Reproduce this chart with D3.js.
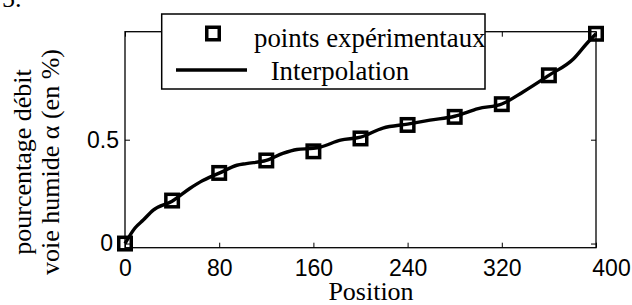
<!DOCTYPE html>
<html>
<head>
<meta charset="utf-8">
<script src="https://cdn.jsdelivr.net/npm/d3@7"></script>
<style>
  body { margin: 0; background: #fff; }
  svg { display: block; }
  .serif { font-family: "Liberation Serif", "Times New Roman", serif; }
  .tick text { font-family: "Liberation Sans", Arial, sans-serif; font-size: 23px; fill: #000; }
</style>
</head>
<body>
<svg id="chart" width="632" height="305"></svg>
<script>
// points expérimentaux
const positions = [0, 40, 80, 120, 160, 200, 240, 280, 320, 360, 400]
const pourcentages = [0, 0.207, 0.34, 0.40, 0.444, 0.506, 0.571, 0.61, 0.671, 0.81, 1.01]

// courbe d'interpolation
const interpX = [0, 8.5, 15.5, 24, 40, 55, 64, 80, 95, 103, 120, 134, 146, 160, 166, 183, 200, 219, 240, 259, 280, 300, 320, 338, 360, 381, 392, 400]
const interpY = [0, 0.075, 0.113, 0.161, 0.204, 0.265, 0.297, 0.339, 0.377, 0.385, 0.40, 0.434, 0.453, 0.459, 0.465, 0.498, 0.512, 0.556, 0.575, 0.594, 0.613, 0.65, 0.672, 0.73, 0.81, 0.89, 0.962, 1.01]

const xTicks = [0, 80, 160, 240, 320, 400]
const yTicks = [0, 0.5]
const yTickLabels = ['0', '0.5']

const legendLabels = ['points expérimentaux', 'Interpolation']

const svg = d3.select('#chart')
const gauche = 125, droite = 596, haut = 31.7, bas = 247.7

const x = d3.scaleLinear().domain([0, 400]).range([gauche, droite])
const y = d3.scaleLinear().domain([-0.02, 1.02]).range([bas, haut])

// reste du numéro de la figure précédente (coupé en haut comme sur l'original)
svg.append('text').attr('class', 'serif').attr('x', 2).attr('y', 7)
  .attr('font-size', 26).text('5.')

// axes (graduations vers l'intérieur)
const axeX = svg.append('g').attr('transform', `translate(0,${bas})`)
  .call(d3.axisBottom(x).tickValues(xTicks).tickSizeInner(-5).tickSizeOuter(0).tickPadding(12))
svg.append('g').attr('transform', `translate(0,${haut})`)
  .call(d3.axisTop(x).tickValues(xTicks).tickSizeInner(-5).tickSizeOuter(0).tickFormat(''))
const axeY = svg.append('g').attr('transform', `translate(${gauche},0)`)
  .call(d3.axisLeft(y).tickValues(yTicks).tickSizeInner(-5).tickSizeOuter(0).tickPadding(6)
    .tickFormat((d, i) => yTickLabels[i]))
svg.append('g').attr('transform', `translate(${droite},0)`)
  .call(d3.axisRight(y).tickValues(yTicks).tickSizeInner(-5).tickSizeOuter(0).tickFormat(''))

// petits décalages des étiquettes comme sur la figure
axeX.selectAll('.tick text').filter(d => d === 400).attr('dx', 15)
axeY.selectAll('.tick text').filter(d => d === 0).attr('dx', -6)

svg.selectAll('.domain').remove()
svg.selectAll('.tick line').attr('stroke', '#000').attr('stroke-width', 1)

svg.append('rect')
  .attr('x', gauche).attr('y', haut)
  .attr('width', droite - gauche).attr('height', bas - haut)
  .attr('fill', 'none').attr('stroke', '#000').attr('stroke-width', 1.3)

// courbe
const ligne = d3.line()
  .x((d, i) => x(interpX[i]))
  .y(d => y(d))
  .curve(d3.curveMonotoneX)

svg.append('path')
  .datum(interpY)
  .attr('d', ligne)
  .attr('fill', 'none')
  .attr('stroke', '#000')
  .attr('stroke-width', 3.4)
  .attr('stroke-linejoin', 'round')

// marqueurs carrés
const cote = 12.5
svg.selectAll('rect.pt')
  .data(pourcentages)
  .enter()
  .append('rect')
  .attr('class', 'pt')
  .attr('x', (d, i) => x(positions[i]) - cote / 2)
  .attr('y', d => y(d) - cote / 2)
  .attr('width', cote).attr('height', cote)
  .attr('fill', 'none').attr('stroke', '#000').attr('stroke-width', 3.5)

// titres des axes
svg.append('text').attr('class', 'serif')
  .attr('x', 371).attr('y', 300)
  .attr('text-anchor', 'middle').attr('font-size', 26)
  .text('Position')

const yLab = ['pourcentage débit', 'voie humide α (en %)']
yLab.forEach((t, i) => {
  svg.append('text').attr('class', 'serif')
    .attr('transform', `translate(${31 + i * 28},162) rotate(-90)`)
    .attr('text-anchor', 'middle').attr('font-size', 26)
    .text(t)
})

// légende
const leg = svg.append('g')
leg.append('rect')
  .attr('x', 161.7).attr('y', 14).attr('width', 323.3).attr('height', 75)
  .attr('fill', '#fff').attr('stroke', '#000').attr('stroke-width', 1.5)
leg.append('rect')
  .attr('x', 213 - cote / 2).attr('y', 33.5 - cote / 2)
  .attr('width', cote).attr('height', cote)
  .attr('fill', 'none').attr('stroke', '#000').attr('stroke-width', 3.5)
leg.append('line')
  .attr('x1', 176).attr('x2', 247).attr('y1', 70).attr('y2', 70)
  .attr('stroke', '#000').attr('stroke-width', 3.4)
leg.append('text').attr('class', 'serif')
  .attr('x', 254).attr('y', 46.5).attr('font-size', 26.8)
  .text(legendLabels[0])
leg.append('text').attr('class', 'serif')
  .attr('x', 270.7).attr('y', 80).attr('font-size', 26.8)
  .text(legendLabels[1])
</script>
</body>
</html>
